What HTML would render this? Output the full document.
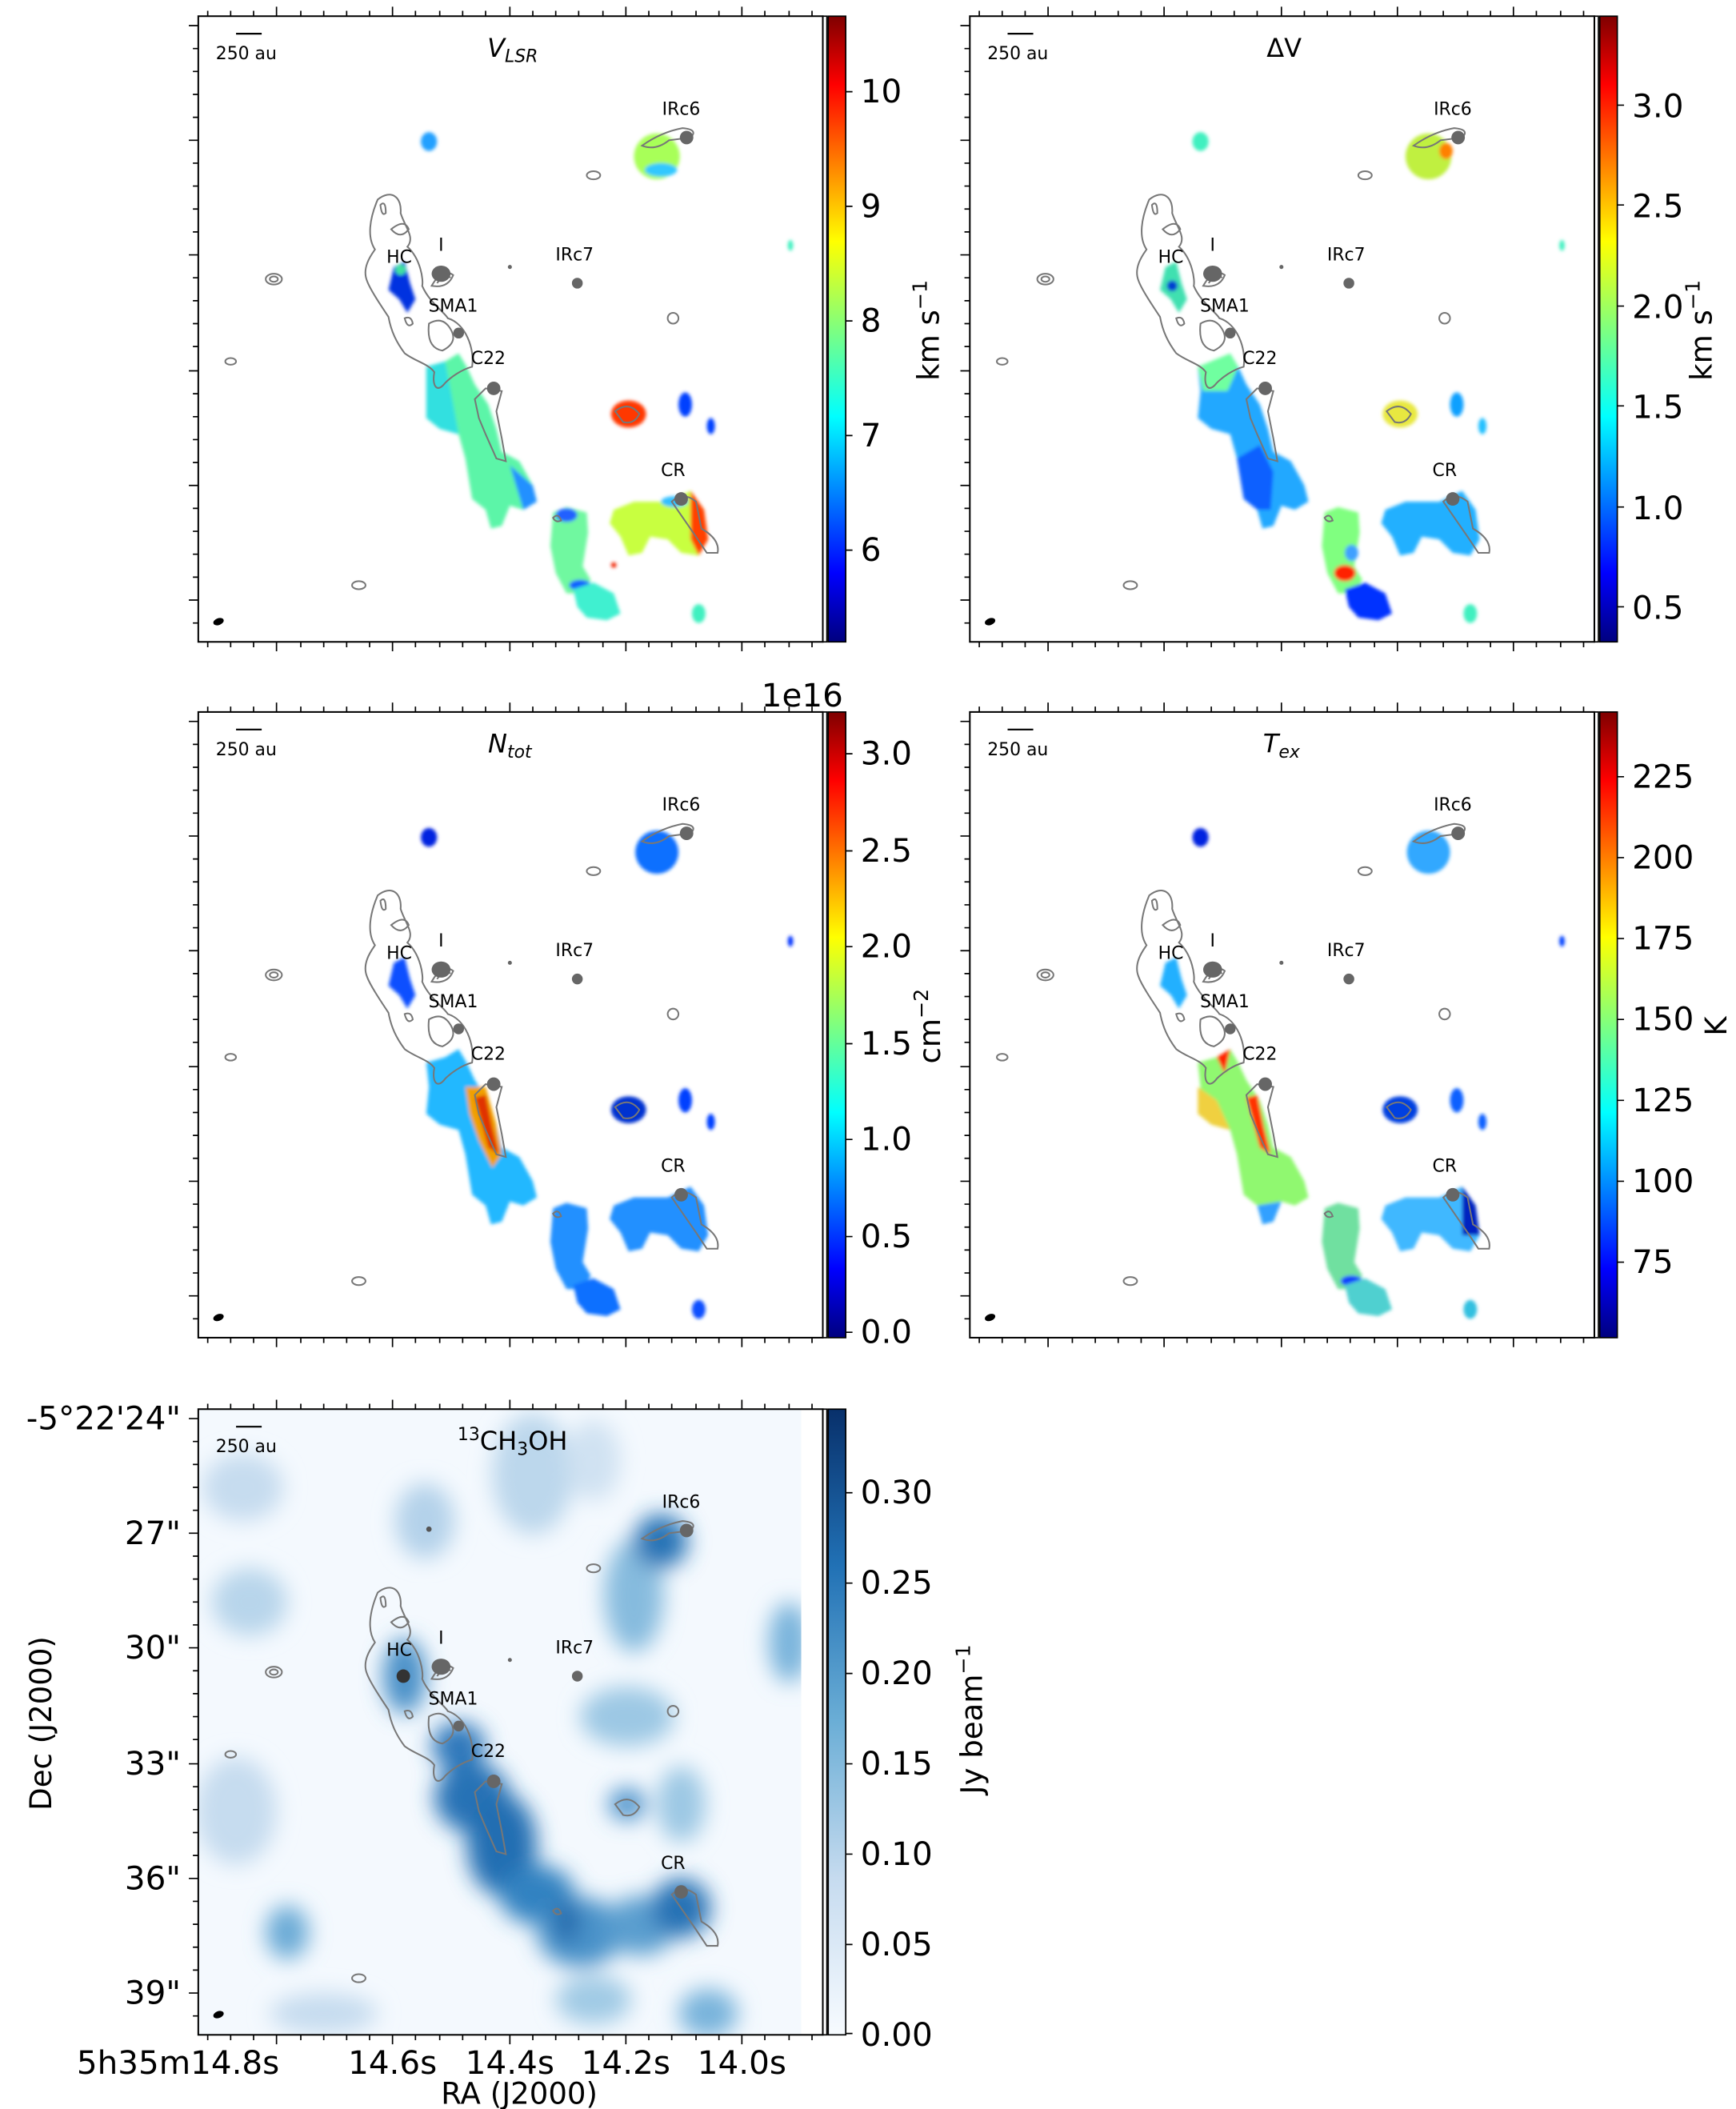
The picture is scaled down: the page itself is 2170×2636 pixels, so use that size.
<!DOCTYPE html>
<html><head><meta charset="utf-8"><style>
html,body{margin:0;padding:0;background:#fff}
svg{display:block}
text{font-family:"DejaVu Sans","Liberation Sans",sans-serif;fill:#000}
</style></head><body>
<svg width="2170" height="2636" viewBox="0 0 1287 1564" preserveAspectRatio="none" xmlns="http://www.w3.org/2000/svg">
<defs>
<linearGradient id="jet" x1="0" y1="1" x2="0" y2="0">
<stop offset="0" stop-color="#00007f"/><stop offset="0.11" stop-color="#0000ff"/><stop offset="0.36" stop-color="#00ffff"/><stop offset="0.5" stop-color="#7fff7f"/><stop offset="0.64" stop-color="#ffff00"/><stop offset="0.89" stop-color="#ff0000"/><stop offset="1" stop-color="#7f0000"/></linearGradient>
<linearGradient id="blues" x1="0" y1="1" x2="0" y2="0">
<stop offset="0" stop-color="#f7fbff"/><stop offset="0.25" stop-color="#c6dbef"/><stop offset="0.5" stop-color="#6baed6"/><stop offset="0.75" stop-color="#2171b5"/><stop offset="1" stop-color="#08306b"/></linearGradient>
<filter id="bl" x="-50%" y="-50%" width="200%" height="200%"><feGaussianBlur stdDeviation="8"/></filter>
<filter id="bs" x="-20%" y="-20%" width="140%" height="140%"><feGaussianBlur stdDeviation="1.2"/></filter>
<clipPath id="cl5"><rect x="147" y="12" width="447" height="464"/></clipPath>
<g id="ticks" stroke="#000" stroke-width="1">
<path d="M205,476v7M291,476v7M378,476v7M464,476v7M550,476v7M205,12v-7M291,12v-7M378,12v-7M464,12v-7M550,12v-7"/>
<path d="M154,476v4M171,476v4M188,476v4M223,476v4M240,476v4M257,476v4M274,476v4M308,476v4M326,476v4M343,476v4M360,476v4M395,476v4M412,476v4M429,476v4M447,476v4M481,476v4M498,476v4M516,476v4M533,476v4M567,476v4M585,476v4M602,476v4M154,12v-4M171,12v-4M188,12v-4M223,12v-4M240,12v-4M257,12v-4M274,12v-4M308,12v-4M326,12v-4M343,12v-4M360,12v-4M395,12v-4M412,12v-4M429,12v-4M447,12v-4M481,12v-4M498,12v-4M516,12v-4M533,12v-4M567,12v-4M585,12v-4M602,12v-4"/>
<path d="M147,19h-7M147,104h-7M147,189h-7M147,275h-7M147,360h-7M147,445h-7"/>
<path d="M147,36h-4M147,53h-4M147,70h-4M147,87h-4M147,121h-4M147,138h-4M147,155h-4M147,172h-4M147,206h-4M147,223h-4M147,240h-4M147,257h-4M147,292h-4M147,309h-4M147,326h-4M147,343h-4M147,377h-4M147,394h-4M147,411h-4M147,428h-4M147,462h-4"/>
</g>
<g id="cont" fill="none" stroke="#777" stroke-width="1.2">
<path d="M280,148 C290,140 298,146 297,158 C300,168 308,176 302,183 C312,192 314,208 313,212 C318,224 330,232 332,236 C345,240 352,258 350,272 C342,274 334,280 330,284 C324,292 320,286 322,276 C318,270 308,268 300,262 C294,254 290,246 288,235 C282,226 274,214 272,208 C268,198 276,188 278,185 C272,176 274,162 280,148 Z"/>
<path d="M282,152 q4,-4 4,6 q-3,3 -4,-6 Z M290,170 q10,-8 13,0 q-6,8 -13,0 Z M300,236 q5,-2 6,4 q-4,4 -6,-4 Z M318,240 q10,-6 16,4 q6,10 -6,16 q-12,-2 -10,-20 Z"/>
<path d="M352,296 L360,288 L372,290 L368,305 L372,325 L375,342 L368,340 L360,322 L355,310 Z"/>
<path d="M498,372 Q506,364 516,372 L520,392 Q534,400 532,410 L524,410 L516,398 Z"/>
<path d="M476,108 Q490,98 506,95 Q518,96 512,102 L496,104 Q486,112 476,108 Z"/>
<ellipse cx="440" cy="130" rx="5" ry="3"/><ellipse cx="203" cy="207" rx="6" ry="4"/><ellipse cx="203" cy="207" rx="3" ry="2"/><ellipse cx="171" cy="268" rx="4" ry="2.5"/><ellipse cx="266" cy="434" rx="5" ry="3"/><ellipse cx="499" cy="236" rx="4" ry="4"/>
<path d="M320,212 q8,-14 16,-8 q-4,10 -16,8Z M324,210 q6,-8 10,-4"/>
<path d="M456,305 q10,-8 18,2 q-4,8 -12,6 Z M410,384 q4,-4 6,2 q-4,2 -6,-2Z"/>
</g>
<g id="dots" fill="#666">
<ellipse cx="509" cy="102" rx="5" ry="5"/><ellipse cx="428" cy="210" rx="4" ry="4"/><ellipse cx="327" cy="203" rx="7" ry="6"/><ellipse cx="340" cy="247" rx="4" ry="4"/><ellipse cx="366" cy="288" rx="5" ry="5"/><ellipse cx="505" cy="370" rx="5" ry="5"/><circle cx="378" cy="198" r="1.5"/>
<ellipse cx="162" cy="461" rx="4" ry="2.5" fill="#000" transform="rotate(-20 162 461)"/>
</g>
<g id="labels" font-size="13">
<text x="505" y="85" text-anchor="middle">IRc6</text><text x="426" y="193" text-anchor="middle">IRc7</text><text x="327" y="186" text-anchor="middle">I</text><text x="296" y="195" text-anchor="middle">HC</text><text x="336" y="231" text-anchor="middle">SMA1</text><text x="362" y="270" text-anchor="middle">C22</text><text x="499" y="353" text-anchor="middle">CR</text>
<path d="M175,25h19" stroke="#000" stroke-width="1.3"/><text x="160" y="44">250 au</text>
</g>
<path id="fil" d="M316,272 L330,268 L340,262 L346,272 L352,285 L362,300 L368,318 L372,335 L385,342 L395,360 L398,372 L388,378 L378,375 L372,390 L364,392 L360,378 L350,370 L345,340 L340,322 L326,318 L316,310 L318,290 Z"/>
<path id="hc" d="M292,198 L300,194 L304,210 L308,222 L302,232 L296,222 L288,215 Z"/>
<path id="seg" d="M410,380 L420,376 L435,380 L436,395 L432,420 L438,430 L432,440 L420,440 L412,425 L408,405 Z"/>
<path id="cr" d="M455,378 L470,372 L495,372 L512,364 L522,378 L525,400 L518,412 L505,410 L495,400 L482,398 L476,410 L466,412 L460,398 L452,388 Z"/>
<path id="bot" d="M425,437 L440,432 L455,440 L460,455 L450,460 L435,458 L428,450 Z"/>
</defs>

<g id="frames">
<rect x="147" y="12" width="463" height="464" fill="#fff" stroke="#000" stroke-width="1.2"/>
<rect x="719" y="12" width="463" height="464" fill="#fff" stroke="#000" stroke-width="1.2"/>
<rect x="147" y="528" width="463" height="464" fill="#fff" stroke="#000" stroke-width="1.2"/>
<rect x="719" y="528" width="463" height="464" fill="#fff" stroke="#000" stroke-width="1.2"/>
</g>

<!-- Panel 1 VLSR -->
<g>
<g filter="url(#bs)">
<use href="#fil" fill="#5cf5a8"/>
<path d="M316,272 L330,268 L336,300 L340,322 L326,318 L316,310 Z" fill="#30e0e0"/>
<path d="M378,345 L395,360 L398,372 L388,378 Z" fill="#2090ff"/>
<use href="#hc" fill="#0030e0"/><circle cx="297" cy="200" r="4" fill="#40e0a0"/>
<ellipse cx="318" cy="105" rx="6" ry="7" fill="#20a0ff"/>
<circle cx="487" cy="116" r="17" fill="#a8ff58"/><ellipse cx="490" cy="126" rx="12" ry="5" fill="#30c8ff"/>
<ellipse cx="466" cy="307" rx="13" ry="10" fill="#ff3800"/>
<ellipse cx="508" cy="300" rx="5" ry="9" fill="#0040ff"/><ellipse cx="527" cy="316" rx="3" ry="6" fill="#0040ff"/>
<use href="#seg" fill="#70f8a0"/><ellipse cx="420" cy="382" rx="8" ry="5" fill="#2060ff"/><ellipse cx="430" cy="434" rx="8" ry="4" fill="#1060ff"/>
<use href="#cr" fill="#c8ff40"/><path d="M512,364 L522,378 L525,400 L518,412 L512,400 Z" fill="#ff4000"/><ellipse cx="500" cy="372" rx="10" ry="4" fill="#30c0ff"/>
<use href="#bot" fill="#40f0d0"/><ellipse cx="518" cy="455" rx="5" ry="7" fill="#40f0c0"/><ellipse cx="586" cy="182" rx="2" ry="4" fill="#40f0c0"/><circle cx="455" cy="419" r="2" fill="#f02000"/>
</g>
<use href="#cont"/><use href="#dots"/><use href="#labels"/><use href="#ticks"/>
<text x="380" y="42" font-size="19" text-anchor="middle" font-style="italic">V<tspan font-size="13" dy="4">LSR</tspan></text>
<rect x="610" y="12" width="3" height="464" fill="none" stroke="#000"/>
<rect x="614" y="12" width="13" height="464" fill="url(#jet)" stroke="#000"/>
<g font-size="24"><text x="638" y="416">6</text><text x="638" y="331">7</text><text x="638" y="246">8</text><text x="638" y="161">9</text><text x="638" y="76">10</text></g>
<path d="M627,408h5M627,323h5M627,238h5M627,153h5M627,68h5" stroke="#000"/>
<text transform="translate(696,245) rotate(-90)" font-size="22" text-anchor="middle">km s<tspan font-size="15" dy="-9">−1</tspan></text>
</g>

<!-- Panel 2 dV -->
<g transform="translate(572,0)">
<g filter="url(#bs)">
<use href="#fil" fill="#20a8ff"/>
<path d="M316,272 L340,262 L346,272 L338,290 L320,290 Z" fill="#70ffa0"/>
<path d="M345,340 L362,330 L372,350 L370,378 L360,378 L350,370 Z" fill="#1060ff"/>
<use href="#hc" fill="#40e0b0"/><circle cx="297" cy="212" r="4" fill="#0040d0"/>
<ellipse cx="318" cy="105" rx="6" ry="7" fill="#40f0c0"/>
<circle cx="487" cy="116" r="17" fill="#c0f040"/><ellipse cx="500" cy="112" rx="5" ry="6" fill="#ff8000"/>
<ellipse cx="466" cy="307" rx="13" ry="10" fill="#e8e840"/>
<ellipse cx="508" cy="300" rx="5" ry="9" fill="#10a0ff"/><ellipse cx="527" cy="316" rx="3" ry="6" fill="#20c0ff"/>
<use href="#seg" fill="#80ff80"/><ellipse cx="425" cy="425" rx="8" ry="6" fill="#ff2000"/><ellipse cx="430" cy="410" rx="5" ry="6" fill="#40a0ff"/>
<use href="#cr" fill="#20b0ff"/>
<use href="#bot" fill="#0030ff"/><ellipse cx="518" cy="455" rx="5" ry="7" fill="#40f0c0"/><ellipse cx="586" cy="182" rx="2" ry="4" fill="#40f0c0"/>
</g>
<use href="#cont"/><use href="#dots"/><use href="#labels"/><use href="#ticks"/>
<text x="380" y="42" font-size="19" text-anchor="middle">ΔV</text>
<rect x="610" y="12" width="3" height="464" fill="none" stroke="#000"/>
<rect x="614" y="12" width="13" height="464" fill="url(#jet)" stroke="#000"/>
<g font-size="24"><text x="638" y="459">0.5</text><text x="638" y="385">1.0</text><text x="638" y="310">1.5</text><text x="638" y="236">2.0</text><text x="638" y="161">2.5</text><text x="638" y="87">3.0</text></g>
<path d="M627,450h5M627,376h5M627,301h5M627,227h5M627,152h5M627,78h5" stroke="#000"/>
<text transform="translate(697,245) rotate(-90)" font-size="22" text-anchor="middle">km s<tspan font-size="15" dy="-9">−1</tspan></text>
</g>

<!-- Panel 3 Ntot -->
<g transform="translate(0,516)">
<g filter="url(#bs)">
<use href="#fil" fill="#20b8ff"/>
<path d="M345,290 L360,290 L368,318 L372,340 L365,350 L355,330 L348,310 Z" fill="#f0a000"/>
<path d="M352,298 L360,296 L365,320 L370,340 L362,335 Z" fill="#e03000"/>
<use href="#hc" fill="#1050ff"/>
<ellipse cx="318" cy="105" rx="6" ry="7" fill="#0020e0"/>
<circle cx="487" cy="116" r="16" fill="#1070ff"/>
<ellipse cx="466" cy="307" rx="13" ry="10" fill="#0030d0"/>
<ellipse cx="508" cy="300" rx="5" ry="9" fill="#0040ff"/><ellipse cx="527" cy="316" rx="3" ry="6" fill="#0040ff"/>
<use href="#seg" fill="#2090ff"/>
<use href="#cr" fill="#2090ff"/>
<use href="#bot" fill="#1070ff"/><ellipse cx="518" cy="455" rx="5" ry="7" fill="#1050ff"/><ellipse cx="586" cy="182" rx="2" ry="4" fill="#0030ff"/>
</g>
<use href="#cont"/><use href="#dots"/><use href="#labels"/><use href="#ticks"/>
<text x="378" y="42" font-size="19" text-anchor="middle" font-style="italic">N<tspan font-size="13" dy="4">tot</tspan></text>
<rect x="610" y="12" width="3" height="464" fill="none" stroke="#000"/>
<rect x="614" y="12" width="13" height="464" fill="url(#jet)" stroke="#000"/>
<g font-size="24"><text x="638" y="480">0.0</text><text x="638" y="409">0.5</text><text x="638" y="337">1.0</text><text x="638" y="266">1.5</text><text x="638" y="194">2.0</text><text x="638" y="123">2.5</text><text x="638" y="51">3.0</text></g>
<path d="M627,472h5M627,401h5M627,329h5M627,258h5M627,186h5M627,115h5M627,43h5" stroke="#000"/>
<text x="625" y="8" font-size="24" text-anchor="end">1e16</text>
<text transform="translate(697,245) rotate(-90)" font-size="22" text-anchor="middle">cm<tspan font-size="15" dy="-9">−2</tspan></text>
</g>

<!-- Panel 4 Tex -->
<g transform="translate(572,516)">
<g filter="url(#bs)">
<use href="#fil" fill="#90f870"/>
<path d="M316,290 L330,300 L340,322 L326,318 L316,310 Z" fill="#f0d040"/>
<path d="M352,298 L360,296 L365,320 L370,340 L362,335 Z" fill="#ff3000"/>
<path d="M330,268 L340,262 L336,280 Z" fill="#ff2000"/>
<path d="M360,378 L378,375 L372,390 L364,392 Z" fill="#30a0ff"/>
<use href="#hc" fill="#20b0ff"/>
<ellipse cx="318" cy="105" rx="6" ry="7" fill="#0020e0"/>
<circle cx="487" cy="116" r="16" fill="#30a8ff"/>
<ellipse cx="466" cy="307" rx="13" ry="10" fill="#0040e0"/>
<ellipse cx="508" cy="300" rx="5" ry="9" fill="#1060ff"/><ellipse cx="527" cy="316" rx="3" ry="6" fill="#1060ff"/>
<use href="#seg" fill="#70e0a0"/><ellipse cx="430" cy="434" rx="8" ry="4" fill="#1040ff"/>
<use href="#cr" fill="#40b8ff"/><path d="M512,364 L522,378 L525,400 L512,400 Z" fill="#0020c0"/>
<use href="#bot" fill="#50d0d0"/><ellipse cx="518" cy="455" rx="5" ry="7" fill="#30c0e0"/><ellipse cx="586" cy="182" rx="2" ry="4" fill="#0040ff"/>
</g>
<use href="#cont"/><use href="#dots"/><use href="#labels"/><use href="#ticks"/>
<text x="378" y="42" font-size="19" text-anchor="middle" font-style="italic">T<tspan font-size="13" dy="4">ex</tspan></text>
<rect x="610" y="12" width="3" height="464" fill="none" stroke="#000"/>
<rect x="614" y="12" width="13" height="464" fill="url(#jet)" stroke="#000"/>
<g font-size="24"><text x="638" y="428">75</text><text x="638" y="368">100</text><text x="638" y="308">125</text><text x="638" y="248">150</text><text x="638" y="188">175</text><text x="638" y="128">200</text><text x="638" y="68">225</text></g>
<path d="M627,420h5M627,360h5M627,300h5M627,240h5M627,180h5M627,120h5M627,60h5" stroke="#000"/>
<text transform="translate(708,245) rotate(-90)" font-size="22" text-anchor="middle">K</text>
</g>

<!-- Panel 5 13CH3OH -->
<g transform="translate(0,1033)">
<rect x="147" y="12" width="463" height="464" fill="#fff"/>
<rect x="147" y="12" width="447" height="464" fill="#f4f9fe"/>
<g clip-path="url(#cl5)" filter="url(#bl)">
<ellipse cx="180" cy="70" rx="30" ry="25" fill="#c6dcef"/>
<ellipse cx="185" cy="155" rx="28" ry="25" fill="#b8d5eb"/>
<ellipse cx="175" cy="310" rx="30" ry="40" fill="#c6dcef"/>
<ellipse cx="315" cy="95" rx="22" ry="28" fill="#b4d2ea"/>
<ellipse cx="395" cy="60" rx="30" ry="45" fill="#bcd7ec"/>
<ellipse cx="440" cy="50" rx="20" ry="30" fill="#d0e2f2"/>
<ellipse cx="470" cy="150" rx="22" ry="42" fill="#86bbde"/>
<ellipse cx="490" cy="110" rx="20" ry="20" fill="#2573b6"/>
<ellipse cx="585" cy="185" rx="15" ry="30" fill="#78b3db"/>
<ellipse cx="465" cy="240" rx="35" ry="22" fill="#9cc8e4"/>
<ellipse cx="505" cy="305" rx="18" ry="28" fill="#9cc8e4"/>
<ellipse cx="465" cy="305" rx="14" ry="12" fill="#4c92ca"/>
<ellipse cx="300" cy="210" rx="16" ry="28" fill="#4a90c8"/>
<ellipse cx="340" cy="262" rx="20" ry="18" fill="#2d78bb"/>
<ellipse cx="350" cy="300" rx="28" ry="26" fill="#2672b6"/>
<ellipse cx="372" cy="335" rx="26" ry="38" fill="#236eb2"/>
<ellipse cx="398" cy="372" rx="28" ry="22" fill="#3382c1"/>
<ellipse cx="430" cy="400" rx="32" ry="26" fill="#4a92c9"/>
<ellipse cx="420" cy="392" rx="9" ry="16" fill="#1f66aa"/>
<ellipse cx="475" cy="395" rx="26" ry="22" fill="#5a9ecf"/>
<ellipse cx="505" cy="382" rx="22" ry="22" fill="#2572b5"/>
<ellipse cx="525" cy="460" rx="22" ry="18" fill="#78b3db"/>
<ellipse cx="440" cy="450" rx="28" ry="18" fill="#a0cae5"/>
<ellipse cx="213" cy="400" rx="16" ry="20" fill="#6aaad6"/>
<ellipse cx="240" cy="460" rx="40" ry="15" fill="#c6dcef"/>
</g>
<ellipse cx="299" cy="210" rx="5" ry="5" fill="#333"/>
<ellipse cx="318" cy="101" rx="2" ry="2" fill="#555"/>
<use href="#cont" style="stroke:#555"/><use href="#dots"/><use href="#labels"/><use href="#ticks"/>
<rect x="147" y="12" width="463" height="464" fill="none" stroke="#000" stroke-width="1.2"/>
<text x="380" y="42" font-size="19" text-anchor="middle"><tspan font-size="13" dy="-7">13</tspan><tspan dy="7">CH</tspan><tspan font-size="13" dy="4">3</tspan><tspan dy="-4">OH</tspan></text>
<rect x="610" y="12" width="3" height="464" fill="none" stroke="#000"/>
<rect x="614" y="12" width="13" height="464" fill="url(#blues)" stroke="#000"/>
<g font-size="24"><text x="638" y="484">0.00</text><text x="638" y="417">0.05</text><text x="638" y="350">0.10</text><text x="638" y="283">0.15</text><text x="638" y="216">0.20</text><text x="638" y="149">0.25</text><text x="638" y="82">0.30</text></g>
<path d="M627,475h5M627,409h5M627,342h5M627,275h5M627,208h5M627,141h5M627,74h5" stroke="#000"/>
<text transform="translate(728,242) rotate(-90)" font-size="22" text-anchor="middle">Jy beam<tspan font-size="15" dy="-9">−1</tspan></text>
<g font-size="24" text-anchor="end"><text x="134" y="27">-5°22'24"</text><text x="134" y="112">27"</text><text x="134" y="197">30"</text><text x="134" y="283">33"</text><text x="134" y="368">36"</text><text x="134" y="453">39"</text></g>
<g font-size="24" text-anchor="middle"><text x="132" y="505">5h35m14.8s</text><text x="291" y="505">14.6s</text><text x="378" y="505">14.4s</text><text x="464" y="505">14.2s</text><text x="550" y="505">14.0s</text></g>
<text x="385" y="527" font-size="22" text-anchor="middle">RA (J2000)</text>
<text transform="translate(38,245) rotate(-90)" font-size="22" text-anchor="middle">Dec (J2000)</text>
</g>
</svg>
</body></html>
